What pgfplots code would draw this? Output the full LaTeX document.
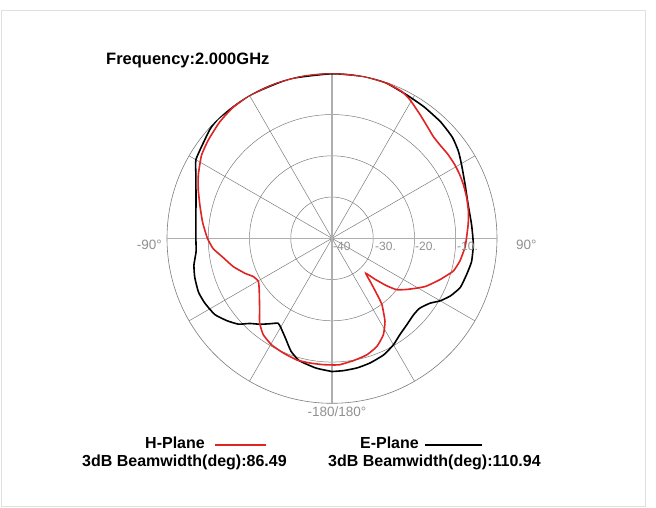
\documentclass[border=0pt]{standalone}
\usepackage{pgfplots}
\pgfplotsset{compat=1.18}
\usepackage{pgfplotstable}
\usepgfplotslibrary{polar}
\usepackage{fontspec}
\setmainfont{Liberation Sans}
\definecolor{hred}{RGB}{225,35,35}
\definecolor{gridc}{RGB}{125,125,125}
\definecolor{axc}{RGB}{175,175,175}
\definecolor{lblc}{RGB}{145,145,145}

% compass angle (0 = top, clockwise), level in dB
\pgfplotstableread{
theta db
-180 -7.7
-173 -8.3
-165 -9.3
-160 -10.9
-155 -13.3
-150 -15.1
-147.5 -15.6
-144 -14.4
-140 -12.8
-136 -11.3
-132.5 -9.2
-128 -7.6
-123 -6.1
-117 -5.4
-112 -5.1
-106 -5.4
-101 -5.9
-95.5 -6.9
-90 -7.0
-80 -6.5
-74 -5.7
-70 -4.9
-65 -3.6
-60 -1.9
-53 -1.1
-48 -0.3
-43 0
-30 0
-15 0
0 -0.1
11 0
19 -0.1
27.5 -0.8
35 -1.1
43 -1.4
50 -1.9
55.5 -2.8
60.5 -3.9
68 -5.2
76 -6.0
84.5 -6.0
92.5 -5.7
99.5 -5.7
105 -6.2
111 -6.7
116 -8.1
120 -9.7
123.5 -11.5
128.5 -12.8
133 -12.9
139 -12.3
145 -11.4
150 -10.2
156 -9.1
163 -8.4
169 -8.0
175 -7.8
180 -7.7
}\eplane

\pgfplotstableread{
theta db
-180 -9.3
-176 -9.3
-170 -9.3
-164 -9.3
-157 -9.8
-150.5 -10.3
-144.5 -11.3
-139.5 -13.0
-134 -15.6
-126 -18.2
-120.5 -19.3
-116 -18.8
-112 -17.3
-106 -15.1
-100 -13.2
-95 -11.1
-90 -9.8
-83 -8.4
-76 -7.0
-70 -5.5
-64.5 -4.1
-57.5 -2.5
-51.5 -1.7
-44 -0.8
-37 -0.2
-30 0
-20 0
-10 0
0 0
11 0
19 -0.1
25.5 -0.6
29.5 -1.5
35.5 -3.2
41 -4.5
45 -5.2
49 -5.4
54 -5.3
59 -5.3
63.5 -5.4
68 -5.6
73.5 -5.9
79 -6.3
84 -6.8
90 -7.4
94 -7.7
100 -8.5
105 -9.5
108 -10.8
111 -12.0
117 -14.4
120.5 -16.2
124.5 -18.1
128.5 -20.0
131 -22.5
133.5 -25.5
136 -28.2
138.5 -26.0
141 -22.9
143 -19.9
147.5 -16.1
152 -13.5
157.5 -11.6
163.5 -10.5
170 -9.9
176.5 -9.3
180 -9.3
}\hplane

\begin{document}
\begin{tikzpicture}
\path[fill=white] (0pt,0pt) rectangle (656pt,-507pt);
\draw[black!12, line width=1pt] (1pt,-10pt) rectangle (645pt,-506pt);
\begin{polaraxis}[
  at={(332pt,-238.3pt)}, anchor=center,
  scale only axis, width=330pt, height=330pt,
  ymin=0, ymax=40,
  xtick={0,30,...,330}, ytick={10,20,30},
  xticklabel={\empty}, yticklabel={\empty},
  grid=major, major grid style={gridc, line width=0.5pt},
  axis line style={gridc, line width=0.6pt},
  major tick length=0pt,
]
\addplot[axc, line width=1.3pt] coordinates {(0,40) (180,40)};
\addplot[axc, line width=1.3pt] coordinates {(90,40) (270,40)};
\addplot[black, line width=1.6pt, smooth, tension=0.3] table[x expr={90-\thisrow{theta}}, y expr={\thisrow{db}+40}] {\eplane};
\addplot[hred, line width=1.6pt, smooth, tension=0.3] table[x expr={90-\thisrow{theta}}, y expr={\thisrow{db}+40}] {\hplane};
\end{polaraxis}
\begin{scope}[x=1pt, y=-1pt]
\node[anchor=west, inner sep=0pt, font=\bfseries\fontsize{16.5}{18}\selectfont] at (106,60) {Frequency:2.000GHz};
\begin{scope}[lblc, font=\fontsize{12}{13}\selectfont]
\node[anchor=west, inner sep=0pt] at (333,246.5) {-40};
\node[anchor=west, inner sep=0pt] at (375,246.5) {-30.};
\node[anchor=west, inner sep=0pt] at (415,246.5) {-20.};
\node[anchor=west, inner sep=0pt] at (457,246.5) {-10.};
\end{scope}
\begin{scope}[lblc, font=\fontsize{13.5}{14}\selectfont]
\node[anchor=east, inner sep=0pt] at (162,245) {-90°};
\node[anchor=west, inner sep=0pt] at (516,245) {90°};
\node[anchor=center, inner sep=0pt] at (337,412) {-180/180°};
\end{scope}
\begin{scope}[font=\bfseries\fontsize{16}{18}\selectfont]
\node[anchor=east, inner sep=0pt] at (205,443) {H-Plane};
\draw[hred, line width=1.6pt] (215,445) -- (266,445);
\node[anchor=east, inner sep=0pt] at (419,443) {E-Plane};
\draw[black, line width=1.6pt] (425,445) -- (482,445);
\node[anchor=west, inner sep=0pt] at (82,462) {3dB Beamwidth(deg):86.49};
\node[anchor=west, inner sep=0pt] at (328,462) {3dB Beamwidth(deg):110.94};
\end{scope}
\end{scope}
\end{tikzpicture}
\end{document}
